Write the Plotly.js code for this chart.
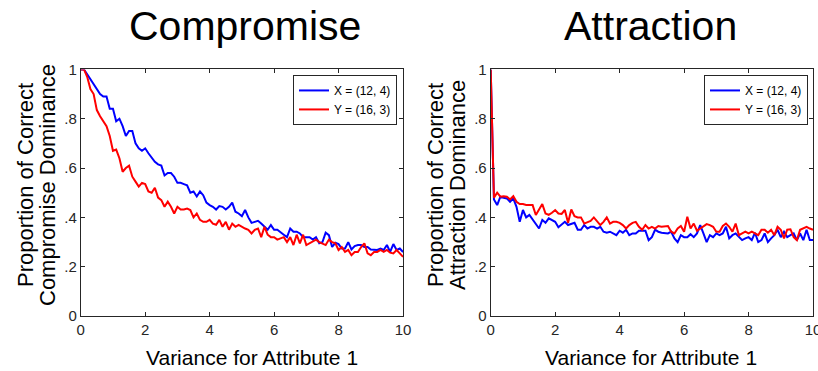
<!DOCTYPE html>
<html>
<head>
<meta charset="utf-8">
<script src="https://cdn.plot.ly/plotly-3.0.1.min.js"></script>
<style>html,body{margin:0;padding:0;background:#fff;}#chart{width:818px;height:371px;}</style>
</head>
<body>
<div id="chart"></div>
<script>
// Variance for Attribute 1 (0 to 10 in steps of 0.1)
const variance = Array.from({length: 101}, (_, i) => +(i / 10).toFixed(1));

const seriesNames = ["X = (12, 4)", "Y = (16, 3)"];

const compromiseX = [1.0,1.0,0.98,0.96,0.94,0.92,0.90,0.89,0.89,0.84,0.84,0.79,0.80,0.77,0.73,0.75,0.75,0.70,0.68,0.67,
0.68,0.66,0.64,0.625,0.615,0.61,0.57,0.58,0.58,0.565,0.54,0.54,0.535,0.53,0.50,0.505,0.485,0.505,0.49,0.46,
0.45,0.443,0.432,0.446,0.443,0.432,0.443,0.46,0.423,0.416,0.405,0.43,0.40,0.378,0.382,0.386,0.375,0.362,0.35,0.369,
0.35,0.35,0.338,0.33,0.32,0.355,0.342,0.342,0.335,0.32,0.32,0.32,0.31,0.32,0.295,0.30,0.338,0.328,0.28,0.297,
0.292,0.274,0.274,0.30,0.27,0.284,0.288,0.288,0.28,0.28,0.27,0.268,0.268,0.274,0.268,0.288,0.26,0.292,0.268,0.274,0.26];

const compromiseY = [1.0,1.0,0.97,0.92,0.90,0.835,0.81,0.79,0.77,0.73,0.67,0.675,0.64,0.585,0.60,0.61,0.565,0.545,0.525,0.54,
0.535,0.505,0.50,0.52,0.48,0.47,0.443,0.464,0.443,0.416,0.443,0.432,0.432,0.436,0.43,0.40,0.416,0.39,0.382,0.382,
0.39,0.375,0.37,0.39,0.362,0.382,0.35,0.375,0.362,0.37,0.362,0.355,0.35,0.335,0.35,0.355,0.32,0.362,0.33,0.32,
0.32,0.31,0.315,0.32,0.30,0.32,0.288,0.33,0.295,0.33,0.288,0.295,0.30,0.31,0.30,0.295,0.288,0.31,0.30,0.295,
0.268,0.28,0.26,0.268,0.247,0.26,0.26,0.28,0.295,0.254,0.247,0.26,0.26,0.268,0.26,0.268,0.257,0.254,0.268,0.254,0.24];

const attractionX = [1.0,0.473,0.45,0.484,0.48,0.477,0.463,0.477,0.443,0.382,0.43,0.40,0.41,0.39,0.375,0.355,0.39,0.378,0.396,0.39,
0.382,0.36,0.373,0.382,0.369,0.375,0.378,0.35,0.35,0.369,0.355,0.362,0.362,0.355,0.362,0.342,0.338,0.342,0.335,0.328,
0.346,0.338,0.35,0.328,0.335,0.335,0.346,0.346,0.346,0.308,0.32,0.35,0.342,0.338,0.335,0.335,0.342,0.315,0.30,0.328,
0.32,0.32,0.332,0.32,0.335,0.369,0.335,0.30,0.328,0.32,0.335,0.328,0.335,0.362,0.315,0.328,0.335,0.32,0.308,0.315,
0.32,0.308,0.338,0.30,0.308,0.335,0.30,0.315,0.328,0.35,0.32,0.342,0.32,0.328,0.335,0.308,0.335,0.308,0.35,0.308,0.308];

const attractionY = [1.0,0.48,0.50,0.484,0.486,0.484,0.473,0.486,0.463,0.454,0.454,0.45,0.45,0.45,0.41,0.432,0.454,0.416,0.41,0.419,
0.43,0.416,0.414,0.43,0.378,0.432,0.405,0.40,0.40,0.375,0.382,0.386,0.40,0.382,0.369,0.382,0.40,0.375,0.382,0.382,
0.378,0.369,0.355,0.369,0.378,0.382,0.362,0.35,0.369,0.355,0.362,0.355,0.365,0.362,0.362,0.365,0.342,0.335,0.355,0.365,
0.342,0.403,0.355,0.375,0.346,0.355,0.365,0.373,0.369,0.362,0.342,0.342,0.365,0.375,0.362,0.342,0.375,0.328,0.335,0.342,
0.335,0.342,0.335,0.328,0.35,0.35,0.338,0.35,0.328,0.362,0.35,0.315,0.35,0.352,0.32,0.308,0.35,0.355,0.362,0.355,0.35];

const xTickVals = [0, 2, 4, 6, 8, 10];
const xTickText = ["0", "2", "4", "6", "8", "10"];
const yTickVals = [0, 0.2, 0.4, 0.6, 0.8, 1];
const yTickText = ["0", ".2", ".4", ".6", ".8", "1"];

const panelTitles = ["Compromise", "Attraction"];
const yTitles = [["Proportion of Correct", "Compromise Dominance"], ["Proportion of Correct", "Attraction Dominance"]];
const xTitle = "Variance for Attribute 1";

const BLUE = "#0000ff", RED = "#ff0000", AX = "#262626";
const FONT = "Liberation Sans, Arial, Helvetica, sans-serif";

function tr(y, name, color, xa, ya, legend) {
  return {x: variance, y: y, name: name, type: "scatter", mode: "lines",
    line: {color: color, width: 2}, xaxis: xa, yaxis: ya, legend: legend};
}

const data = [
  tr(compromiseX, seriesNames[0], BLUE, "x", "y", "legend"),
  tr(compromiseY, seriesNames[1], RED, "x", "y", "legend"),
  tr(attractionX, seriesNames[0], BLUE, "x2", "y2", "legend2"),
  tr(attractionY, seriesNames[1], RED, "x2", "y2", "legend2")
];

function xax(domain, anchor) {
  return {domain: domain, anchor: anchor, range: [0, 10], tickvals: xTickVals, ticktext: xTickText,
    ticks: "inside", ticklen: 4, tickcolor: AX, showline: true, linecolor: AX, linewidth: 1, mirror: "allticks",
    showgrid: false, zeroline: false, tickfont: {family: FONT, size: 15, color: AX},
    ticklabeloverflow: "allow", fixedrange: true};
}
function yax(anchor) {
  return {domain: [0.148, 0.813], anchor: anchor, range: [0, 1], tickvals: yTickVals, ticktext: yTickText,
    ticks: "inside", ticklen: 4, tickcolor: AX, showline: true, linecolor: AX, linewidth: 1, mirror: "allticks",
    showgrid: false, zeroline: false, tickfont: {family: FONT, size: 15, color: AX},
    ticklabeloverflow: "allow", fixedrange: true};
}

const legendStyle = (x) => ({x: x, y: 0.798, xanchor: "right", yanchor: "top", bgcolor: "#fff",
  bordercolor: AX, borderwidth: 1, font: {family: FONT, size: 12, color: "#000"},
  tracegroupgap: 0, itemwidth: 30});

const annotations = [];
const titleCenters = [245, 650];
const xTitleCenters = [252, 651];
const yTitleX = [[26, 48], [436, 458]];
panelTitles.forEach((t, i) => {
  annotations.push({text: t, x: titleCenters[i] / 818, y: 1 - 26 / 371, xref: "paper", yref: "paper",
    xanchor: "center", yanchor: "middle", showarrow: false, font: {family: FONT, size: 41, color: "#000"}});
  annotations.push({text: xTitle, x: xTitleCenters[i] / 818, y: 1 - 357 / 371, xref: "paper", yref: "paper",
    xanchor: "center", yanchor: "middle", showarrow: false, font: {family: FONT, size: 21, color: "#000"}});
  yTitles[i].forEach((line, j) => {
    annotations.push({text: line, x: yTitleX[i][j] / 818, y: 1 - 185 / 371, xref: "paper", yref: "paper",
      xanchor: "center", yanchor: "middle", textangle: -90, showarrow: false,
      font: {family: FONT, size: 22, color: "#000"}});
  });
});

const layout = {
  width: 818, height: 371,
  margin: {l: 0, r: 0, t: 0, b: 0},
  paper_bgcolor: "#fff", plot_bgcolor: "#fff",
  showlegend: true,
  xaxis: xax([0.0987, 0.4927], "y"),
  yaxis: yax("x"),
  xaxis2: xax([0.5999, 0.9939], "y2"),
  yaxis2: yax("x2"),
  legend: legendStyle(397 / 818),
  legend2: legendStyle(808 / 818),
  annotations: annotations,
  font: {family: FONT}
};

Plotly.newPlot("chart", data, layout, {displayModeBar: false, staticPlot: true});
</script>
</body>
</html>
